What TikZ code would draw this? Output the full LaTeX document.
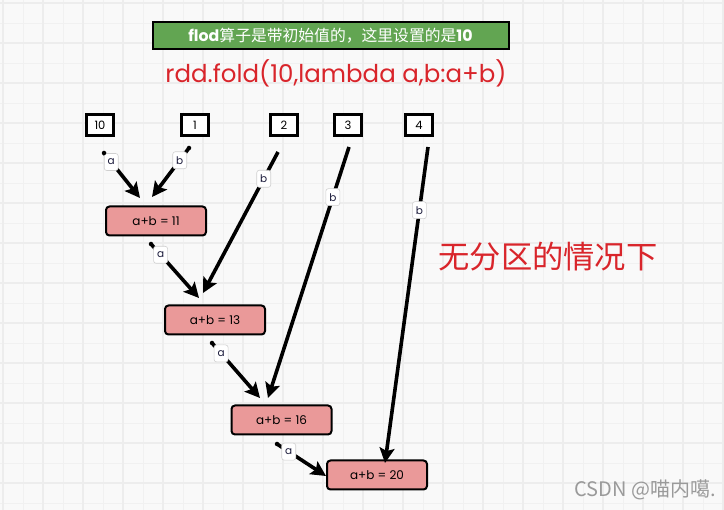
\documentclass[tikz,border=0pt]{standalone}
\usepackage{fontspec}
\setmainfont{Poppins}
\newfontfamily\cjk{Noto Sans CJK SC}
\newfontfamily\cjkl{Noto Sans CJK SC}
\usetikzlibrary{arrows.meta}
\definecolor{bg}{HTML}{F9F9F9}
\definecolor{gridmaj}{HTML}{EDEDED}
\definecolor{gridmin}{HTML}{F1F1F1}
\definecolor{banner}{HTML}{62A552}
\definecolor{titlered}{HTML}{D9252B}
\definecolor{sumfill}{HTML}{EA9999}
\definecolor{lblborder}{HTML}{D0D0D0}
\definecolor{lbltext}{HTML}{1C1C3C}
\definecolor{wm}{HTML}{9A9A9A}
\tikzset{
  numbox/.style={draw=black, line width=2.2pt, fill=white, minimum width=27pt, minimum height=21pt, inner sep=0pt, font=\fontsize{11.5}{13}\selectfont},
  sumbox/.style={draw=black, line width=2pt, fill=sumfill, rounded corners=3.5pt, minimum width=100pt, minimum height=29pt, inner sep=0pt, font=\fontsize{12}{14}\selectfont},
  flow/.style={line width=3.6pt, -{Stealth[length=15pt,width=15pt,inset=3pt]}},
  lbl/.style={draw=lblborder, line width=0.6pt, fill=white, rounded corners=2.5pt, inner sep=2pt, minimum width=14pt, minimum height=17pt, text=lbltext, font=\fontsize{10.5}{11}\selectfont, sloped=false},
  startdot/.style={fill=black, circle, inner sep=0pt, minimum size=4.5pt}
}
\begin{document}
\begin{tikzpicture}[x=1pt, y=-1pt]
\useasboundingbox (0,0) rectangle (724,510);
\fill[bg] (0,0) rectangle (724,510);
% grid
\foreach \x in {23,63,...,723} \draw[gridmin, line width=0.8pt] (\x,0) -- (\x,510);
\foreach \y in {23,63,...,510} \draw[gridmin, line width=0.8pt] (0,\y) -- (724,\y);
\foreach \x in {3,43,...,723} \draw[gridmaj, line width=1.8pt] (\x,0) -- (\x,510);
\foreach \y in {3,43,...,510} \draw[gridmaj, line width=1.8pt] (0,\y) -- (724,\y);

% banner
\node[draw=black, line width=2pt, fill=banner, minimum width=356pt, minimum height=27pt, inner sep=0pt, text=white, font=\fontsize{15.8}{17}\selectfont] (banner) at (330.5,35.5) {\textbf{flod}{\cjk 算子是带初始值的，这里设置的是}\textbf{10}};
% title
\node[text=titlered, font=\fontsize{24.5}{27}\selectfont, inner sep=0pt] (title) at (336,73) {rdd.fold(10,lambda a,b:a+b)};

% number boxes
\node[numbox] (n10) at (100,125) {10};
\node[numbox] (n1) at (195,125) {1};
\node[numbox] (n2) at (284,125) {2};
\node[numbox] (n3) at (348,125) {3};
\node[numbox] (n4) at (419,125) {4};

% sum boxes
\node[sumbox] (s11) at (156,221) {a+b = 11};
\node[sumbox] (s13) at (215,320) {a+b = 13};
\node[sumbox] (s16) at (281.5,420) {a+b = 16};
\node[sumbox] (s20) at (377,475) {a+b = 20};

% connector end points
\coordinate (a1s) at (104,153); \coordinate (a1e) at (140,198);
\coordinate (b1s) at (189,148); \coordinate (b1e) at (152,197);
\coordinate (b2s) at (278,152); \coordinate (b2e) at (203,293);
\coordinate (a2s) at (151,244); \coordinate (a2e) at (199,298);
\coordinate (b3s) at (349,147); \coordinate (b3e) at (268,398);
\coordinate (a3s) at (212,343); \coordinate (a3e) at (260,398);
\coordinate (b4s) at (428,147); \coordinate (b4e) at (385,463);
\coordinate (a4s) at (277,444); \coordinate (a4e) at (326,476);

\draw[flow] (a1s) -- node[lbl, pos=0.2] {a} (a1e);
\draw[flow] (b1s) -- node[lbl, pos=0.25] {b} (b1e);
\draw[flow] (b2s) -- node[lbl, pos=0.19] {b} (b2e);
\draw[flow] (a2s) -- node[lbl, pos=0.2] {a} (a2e);
\draw[flow] (b3s) -- node[lbl, pos=0.2] {b} (b3e);
\draw[flow] (a3s) -- node[lbl, pos=0.19] {a} (a3e);
\draw[flow] (b4s) -- node[lbl, pos=0.2] {b} (b4e);
\draw[flow] (a4s) -- node[lbl, pos=0.24] {a} (a4e);
\node[startdot] (d1) at (a1s) {};
\node[startdot] (d2) at (b1s) {};
\node[startdot] (d3) at (a2s) {};
\node[startdot] (d4) at (a3s) {};
\node[startdot] (d5) at (a4s) {};

% side note
\node[text=titlered, font=\cjkl\fontsize{31.3}{34}\selectfont, inner sep=0pt] (note) at (548,257) {无分区的情况下};
% watermark
\node[text=wm, font=\cjk\fontsize{20}{22}\selectfont, inner sep=0pt] (wmk) at (645,490) {CSDN @喵内噶.};
\end{tikzpicture}
\end{document}
